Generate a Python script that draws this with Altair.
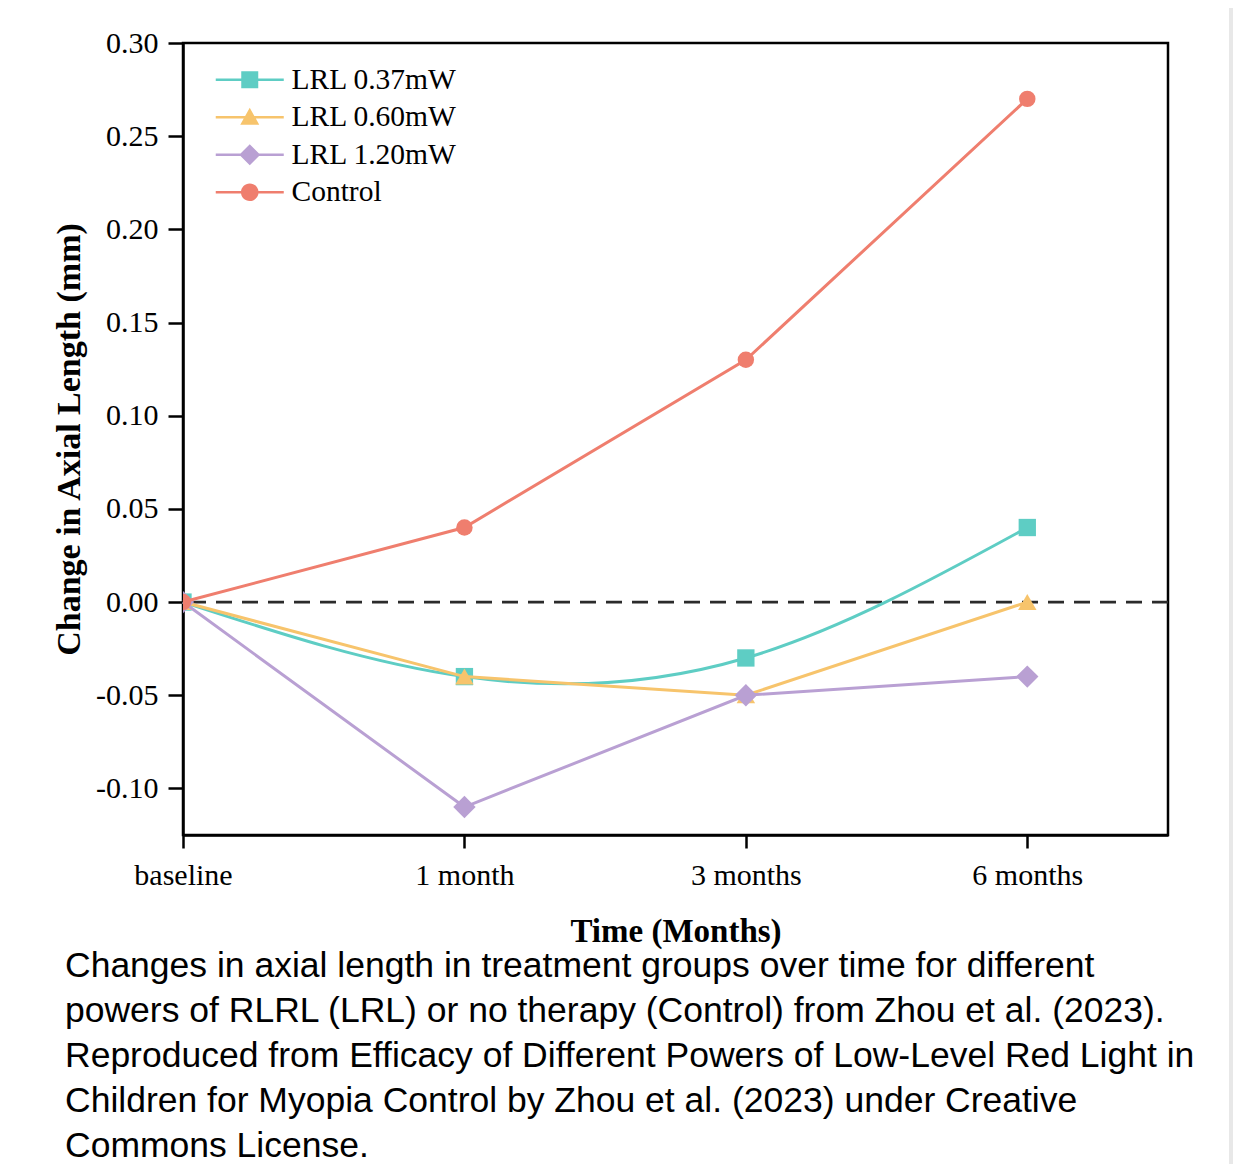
import json
import altair as alt
import pandas as pd

# ---- data ----
time_labels = ["baseline", "1 month", "3 months", "6 months"]
time_index = [0, 1, 2, 3]
series_names = ["LRL 0.37mW", "LRL 0.60mW", "LRL 1.20mW", "Control"]
lrl_037 = [0.00, -0.04, -0.03, 0.04]
lrl_060 = [0.00, -0.04, -0.05, 0.00]
lrl_120 = [0.00, -0.11, -0.05, -0.04]
control = [0.00, 0.04, 0.13, 0.27]
y_ticks = [-0.10, -0.05, 0.00, 0.05, 0.10, 0.15, 0.20, 0.25, 0.30]
caption_lines = [
    "Changes in axial length in treatment groups over time for different",
    "powers of RLRL (LRL) or no therapy (Control) from Zhou et al. (2023).",
    "Reproduced from Efficacy of Different Powers of  Low-Level Red Light in",
    "Children for Myopia Control by Zhou et al.  (2023) under Creative",
    "Commons License.",
]

# ---- styles ----
colors = ["#5ECDC4", "#F7C46C", "#B9A0D3", "#EF7E6E"]
shapes = ["square", "triangle-up", "diamond", "circle"]
sizes = [300, 340, 500, 270]
interps = ["natural", "linear", "linear", "linear"]
line_rect = "M-3.4,-0.13H3.4V0.13H-3.4Z"
legend_paths = [
    line_rect + " M-0.85,-0.85H0.85V0.85H-0.85Z",
    line_rect + " M0,-0.95L0.95,0.75L-0.95,0.75Z",
    line_rect + " M0,-1.05L1.05,0L0,1.05L-1.05,0Z",
    line_rect + " M-0.88,0A0.88,0.88,0,1,1,0.88,0A0.88,0.88,0,1,1,-0.88,0Z",
]

values = [lrl_037, lrl_060, lrl_120, control]
rows = []
for name, vals in zip(series_names, values):
    for t, v in zip(time_index, vals):
        rows.append({"series": name, "t": t, "value": v})
df = pd.DataFrame(rows)
one_row = pd.DataFrame({"k": [0]})

SERIF = "Liberation Serif"

x_enc = alt.X(
    "t:Q",
    scale=alt.Scale(domain=[0, 3.5], nice=False, zero=False),
    axis=alt.Axis(
        values=time_index,
        labelExpr=json.dumps(time_labels) + "[datum.value]",
        title="Time (Months)",
        grid=False,
        tickSize=13, tickWidth=2.5, tickColor="black",
        domainWidth=2.5, domainColor="black",
        labelFont=SERIF, labelFontSize=30, labelColor="black", labelPadding=12,
        labelFlush=False,
        titleFont=SERIF, titleFontSize=33, titleFontWeight="bold",
        titleColor="black", titlePadding=25,
    ),
)
y_enc = alt.Y(
    "value:Q",
    scale=alt.Scale(domain=[-0.125, 0.30], nice=False, zero=False),
    axis=alt.Axis(
        values=y_ticks,
        labelExpr="replace(format(datum.value, '.2f'), '\u2212', '-')",
        title="Change in Axial Length (mm)",
        grid=False,
        tickSize=15, tickWidth=2.5, tickColor="black",
        domainWidth=2.5, domainColor="black",
        labelFont=SERIF, labelFontSize=30, labelColor="black", labelPadding=10,
        labelFlush=False,
        titleFont=SERIF, titleFontSize=34, titleFontWeight="bold",
        titleColor="black", titlePadding=9,
    ),
)

base = alt.Chart(df)

zero_line = alt.Chart(one_row).mark_rule(
    strokeDash=[16, 10], strokeWidth=2.8, color="#2b2b2b"
).encode(y=alt.datum(0))

layers = [zero_line]
for name, col, sh, sz, ip in zip(series_names, colors, shapes, sizes, interps):
    sub = base.transform_filter(alt.datum.series == name)
    layers.append(
        sub.mark_line(color=col, strokeWidth=3, interpolate=ip).encode(x=x_enc, y=y_enc)
    )
    layers.append(
        sub.mark_point(filled=True, opacity=1, color=col, shape=sh, size=sz,
                       strokeWidth=0, clip=True).encode(x=x_enc, y=y_enc)
    )

leg = alt.Legend(
    orient="none", legendX=52, legendY=22, title=None,
    labelFont=SERIF, labelFontSize=29.5, labelColor="black", labelLimit=400,
    labelOffset=27, symbolSize=400, symbolStrokeWidth=0, rowPadding=6.5,
    padding=0, symbolOpacity=1,
)
legend_layer = base.transform_filter("false").mark_point(filled=True, opacity=1).encode(
    x=x_enc, y=y_enc,
    color=alt.Color("series:N", scale=alt.Scale(domain=series_names, range=colors), legend=leg),
    shape=alt.Shape("series:N", scale=alt.Scale(domain=series_names, range=legend_paths), legend=leg),
)
layers.append(legend_layer)

caption = alt.Chart(one_row).mark_text(
    align="left", baseline="top", font="Liberation Sans", fontSize=35.5,
    lineHeight=45, color="black",
).encode(text=alt.value(caption_lines), x=alt.value(-118), y=alt.value(906))
layers.append(caption)

page_line = alt.Chart(one_row).mark_rule(color="#e8e8e8", strokeWidth=4).encode(
    x=alt.value(1048), y=alt.value(-35), y2=alt.value(1121)
)
layers.append(page_line)

chart = alt.layer(*layers).properties(
    width=985, height=792,
    background="white",
    autosize=alt.AutoSizeParams(type="none"),
    padding={"left": 175, "top": 35, "right": 65, "bottom": 329},
).configure_view(stroke="black", strokeWidth=2.5)

chart.save("out.html", embed_options={"renderer": "svg", "actions": False})
